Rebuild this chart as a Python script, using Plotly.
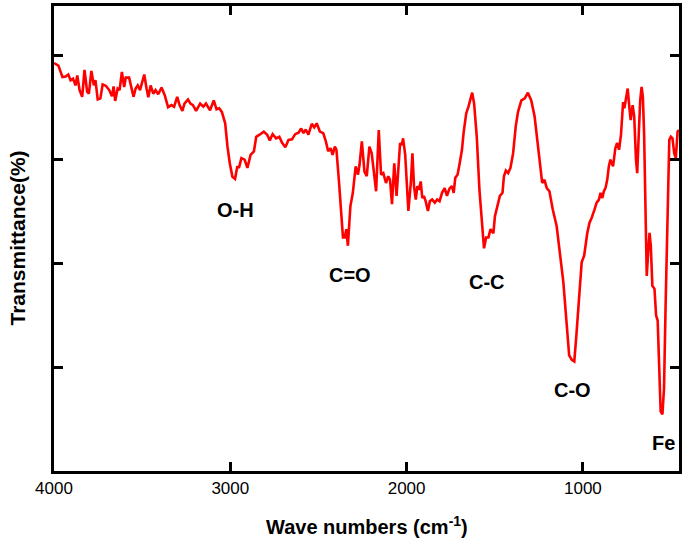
import plotly.graph_objects as go

wavenumber = [4000, 3975, 3952, 3934, 3919, 3906, 3892, 3878, 3868, 3855, 3840, 3827, 3812, 3802, 3788, 3774, 3765, 3752, 3737, 3724,
              3705, 3687, 3671, 3662, 3653, 3639, 3628, 3615, 3602, 3593, 3574, 3563, 3549, 3537, 3525, 3512, 3503, 3488, 3475, 3465,
              3452, 3437, 3424, 3409, 3390, 3372, 3353, 3334, 3319, 3301, 3288, 3272, 3260, 3240, 3226,
              3212, 3194, 3171, 3153, 3138, 3115, 3094, 3078, 3063, 3048, 3029, 3016, 3003, 2988, 2973, 2960, 2951, 2937, 2919, 2903,
              2885, 2866, 2853, 2834, 2810, 2791, 2776, 2760, 2740, 2722, 2707, 2688, 2670, 2650, 2632, 2613, 2598, 2585, 2572, 2557,
              2538, 2524, 2510, 2492,
              2473, 2458, 2445, 2431, 2420, 2407, 2398, 2383, 2370, 2361, 2351, 2342, 2333, 2319, 2305, 2289, 2276, 2267, 2254, 2239,
              2226, 2211, 2198, 2188, 2173, 2158, 2145, 2132, 2117, 2104, 2094, 2083, 2070, 2057, 2046, 2037, 2027, 2020, 2008, 2001,
              1990, 1976, 1967, 1958, 1948, 1939, 1930, 1920, 1911, 1902, 1892, 1879, 1868, 1855, 1840, 1827, 1813, 1799, 1784, 1771,
              1757, 1743, 1733, 1724, 1711,
              1699, 1686, 1677, 1662, 1649, 1639, 1628, 1617, 1602, 1587, 1574, 1561, 1549, 1536, 1524, 1508, 1499, 1486, 1471, 1456,
              1448, 1437, 1424, 1411, 1396, 1381, 1368, 1349, 1330, 1312, 1293, 1274, 1256, 1243, 1231, 1218, 1205, 1190, 1171, 1149,
              1130, 1111, 1093, 1078, 1063, 1049, 1037, 1021, 1007, 993, 975, 962, 950,
              934, 922, 909, 900, 890, 881, 872, 862, 853, 844, 829, 816, 806, 795, 784, 772, 765, 756, 746, 737,
              729, 718, 709, 699, 692, 683, 675, 667, 660, 653, 645, 638, 630, 622, 615, 606, 594, 585, 576, 568,
              559, 549, 540, 531, 521, 510, 501, 492, 482, 473, 463, 455]

transmittance = [78.6, 78.1, 75.9, 76.0, 76.4, 75.3, 75.6, 74.3, 76.2, 73.4, 72.1, 77.3, 73.1, 72.7, 77.1, 74.3, 75.3, 71.6, 71.8, 74.5,
                 74.2, 73.4, 72.2, 74.1, 71.3, 73.7, 73.4, 76.9, 74.0, 75.8, 75.8, 74.0, 72.1, 73.7, 74.3, 73.4, 74.6, 76.4, 73.7, 72.0,
                 74.3, 72.7, 73.4, 72.6, 73.9, 72.4, 70.1, 70.5, 70.2, 72.1, 70.5, 69.4, 70.8, 71.6, 70.8,
                 70.5, 69.4, 70.8, 70.2, 70.8, 69.5, 71.4, 69.7, 69.9, 69.2, 67.0, 62.5, 59.3, 56.7, 56.3, 58.7, 58.4, 60.3, 60.0, 58.4,
                 60.9, 61.6, 64.4, 64.8, 65.4, 64.8, 63.7, 64.9, 64.1, 64.4, 63.3, 62.4, 63.8, 63.9, 64.9, 65.2, 66.0, 65.1, 65.8, 64.8,
                 66.9, 66.2, 67.0, 65.4,
                 65.1, 63.5, 61.6, 62.2, 60.9, 62.5, 61.9, 55.5, 47.9, 45.0, 45.0, 46.6, 43.4, 51.0, 53.6, 58.7, 57.1, 59.0, 63.5, 57.7,
                 56.8, 62.5, 61.2, 58.4, 53.9, 65.7, 57.1, 57.4, 55.5, 56.8, 56.1, 51.4, 59.3, 53.0, 58.1, 63.2, 62.8, 64.1, 60.9, 56.8,
                 50.1, 55.5, 61.2, 54.9, 52.3, 54.9, 54.2, 55.8, 52.6, 53.0, 52.0, 50.1, 52.0, 52.3, 51.7, 52.3, 52.0, 53.6, 54.5, 53.0,
                 54.4, 54.9, 53.6, 56.5, 57.1,
                 59.3, 61.9, 65.1, 68.9, 70.2, 71.8, 72.9, 70.8, 64.4, 54.2, 47.9, 42.9, 45.0, 45.0, 46.6, 45.8, 49.1, 51.0, 53.0, 53.6,
                 56.8, 57.9, 57.4, 58.4, 61.2, 66.4, 69.2, 71.4, 71.8, 72.9, 71.4, 68.3, 62.5, 59.3, 55.5, 56.1, 54.5, 53.9, 50.4, 47.2,
                 42.1, 36.4, 28.7, 22.3, 21.4, 21.1, 26.2, 33.8, 40.2, 41.5, 45.9, 47.9, 48.8,
                 50.4, 51.7, 52.3, 53.6, 52.6, 53.9, 54.5, 56.1, 58.7, 60.0, 58.7, 62.2, 63.2, 61.9, 64.8, 71.1, 69.9, 71.4, 73.7, 70.2,
                 67.6, 70.5, 68.3, 60.0, 57.4, 65.1, 71.4, 74.0, 72.1, 65.1, 52.3, 37.6, 42.1, 45.9, 43.4, 35.7, 35.1, 30.0, 29.0, 19.1,
                 11.5, 10.9, 15.9, 31.9, 49.8, 63.8, 64.4, 64.1, 61.2, 60.3, 65.4, 65.7]

band_labels = ["O-H", "C=O", "C-C", "C-O", "Fe"]
band_x = [2969, 2323, 1542, 1059, 542]
band_y = [50.3, 37.7, 36.4, 15.7, 5.4]

x_ticks = [4000, 3000, 2000, 1000]
y_ticks = [20, 40, 60, 80]

font_fam = "Arial, Liberation Sans"

fig = go.Figure()
fig.add_trace(go.Scatter(x=wavenumber, y=transmittance, mode="lines",
                         line=dict(color="#ff0000", width=2.6), showlegend=False,
                         hoverinfo="skip"))

for lab, bx, by in zip(band_labels, band_x, band_y):
    fig.add_annotation(x=bx, y=by, text="<b>" + lab + "</b>", showarrow=False,
                       font=dict(family=font_fam, size=20, color="black"),
                       xanchor="center", yanchor="middle")

fig.add_annotation(xref="paper", yref="paper", x=0.5, y=0, yanchor="middle", yshift=-54,
                   text="<b>Wave numbers (cm<sup>-1</sup>)</b>", showarrow=False,
                   font=dict(family=font_fam, size=20, color="black"))
fig.add_annotation(xref="paper", yref="paper", x=0, y=0.5, xanchor="center", xshift=-37,
                   text="<b>Transmittance(%)</b>", textangle=-90, showarrow=False,
                   font=dict(family=font_fam, size=21, color="black"))

fig.update_layout(
    width=685, height=539,
    margin=dict(l=54, r=3, t=3, b=68),
    paper_bgcolor="white", plot_bgcolor="white",
    font=dict(family=font_fam, color="black"),
    xaxis=dict(range=[4000, 455], tickvals=x_ticks, ticktext=[str(v) for v in x_ticks],
               ticks="inside", ticklen=9, tickwidth=3, tickcolor="black",
               showline=True, linewidth=3, linecolor="black", mirror="ticks",
               showgrid=False, zeroline=False, tickfont=dict(size=17, color="black")),
    yaxis=dict(range=[0, 89.6], tickvals=y_ticks, showticklabels=False,
               ticks="inside", ticklen=9, tickwidth=3, tickcolor="black",
               showline=True, linewidth=3, linecolor="black", mirror="ticks",
               showgrid=False, zeroline=False),
)

fig.write_html("out.html", config={"displayModeBar": False},
               post_script="document.body.style.margin='0';document.body.style.padding='0';document.body.style.overflow='hidden';")
